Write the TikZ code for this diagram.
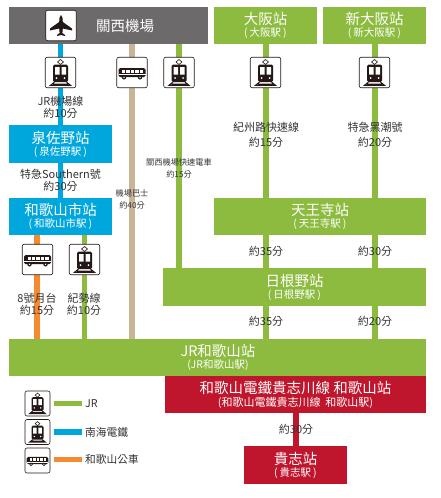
\documentclass[tikz,border=0pt]{standalone}
\usepackage{fontspec}
\setmainfont{Noto Sans CJK TC}
\definecolor{jrgreen}{HTML}{8CBB3F}
\definecolor{nankaiblue}{HTML}{00A7DC}
\definecolor{busorange}{HTML}{F58A2E}
\definecolor{limotan}{HTML}{C9B498}
\definecolor{kixgray}{HTML}{6D6A6B}
\definecolor{kishired}{HTML}{C0162D}
\definecolor{icondark}{HTML}{231815}
\definecolor{labeltext}{HTML}{333333}
\newcommand{\stn}[2]{{\fontsize{14.5}{15}\selectfont #1}\\[0pt]{\fontsize{10.5}{13}\selectfont (\kern2pt #2\kern2pt)}}
\tikzset{
  station/.style={fill=#1, text=white, minimum height=37.5, inner sep=0pt, align=center},
  route/.style={line width=5.6pt, #1},
  timelabel/.style={text=labeltext, font=\fontsize{11}{12}\selectfont, inner sep=0pt, align=center},
  smalllabel/.style={text=labeltext, font=\fontsize{8.2}{12}\selectfont, inner sep=0pt, align=center},
  iconbox/.style={draw=icondark, line width=.6pt, fill=white, rounded corners=2pt, minimum size=#1, inner sep=0pt},
  iconbox/.default=30.5,
  legendtext/.style={text=labeltext, font=\fontsize{10.7}{12}\selectfont, inner sep=0pt, anchor=west},
  trainpic/.pic={
    \draw[icondark, line width=.6pt] (0,-13) -- (3,-10.5) -- (0,-8) -- (-3,-10.5) -- cycle;
    \fill[icondark, rounded corners=1.5pt] (-7.5,-8) rectangle (7.5,9.5);
    \fill[white] (-5.5,-5.5) rectangle (-1,2) (1,-5.5) rectangle (5.5,2);
    \fill[white] (-4,5.5) circle (1) (4,5.5) circle (1);
    \draw[icondark, line width=1pt] (-6,9.5) -- (-10,12.8) -- (10,12.8) -- (6,9.5) (-7.5,11.5) -- (7.5,11.5);
  },
  buspic/.pic={
    \fill[icondark, rounded corners=1.5pt] (-13.5,-4.5) rectangle (13.5,4.5);
    \foreach \wx in {-10,-5.6,-1.2,3.2,7.6}
      \fill[white] (\wx,-2.8) rectangle ++(3.4,3);
    \fill[white] (-13.5,1.8) rectangle (13.5,2.6);
    \fill[icondark] (-8,4.8) circle (2.2) (8,4.8) circle (2.2);
    \fill[white] (-8,4.8) circle (.8) (8,4.8) circle (.8);
  },
  planepic/.pic={
    \fill[icondark] (0,-10.5) .. controls (1.8,-9.5) and (1.8,-6) .. (1.8,-3.5)
      -- (11,3) -- (11,5) -- (1.8,3) -- (1.4,7.5) -- (4,9.5) -- (4,10.5) -- (0,9.5)
      -- (-4,10.5) -- (-4,9.5) -- (-1.4,7.5) -- (-1.8,3) -- (-11,5) -- (-11,3) -- (-1.8,-3.5)
      .. controls (-1.8,-6) and (-1.8,-9.5) .. (0,-10.5) -- cycle;
  },
}
\begin{document}
\begin{tikzpicture}[x=1pt, y=-1pt]
  \useasboundingbox (0,0) rectangle (441,498);

  % Estaciones
  \node[station=kixgray, minimum width=199] (kansai) at (108.5,25.5) {};
  \node[station=jrgreen, minimum width=103] (osaka) at (265.5,25.5) {\stn{大阪站}{大阪駅}};
  \node[station=jrgreen, minimum width=103] (shinosaka) at (374.5,25.5) {\stn{新大阪站}{新大阪駅}};
  \node[station=nankaiblue, minimum width=103] (sano) at (60.5,144) {\stn{泉佐野站}{泉佐野駅}};
  \node[station=nankaiblue, minimum width=103] (wakayamashi) at (60.5,216.5) {\stn{和歌山市站}{和歌山市駅}};
  \node[station=jrgreen, minimum width=212] (tennoji) at (320,216.5) {\stn{天王寺站}{天王寺駅}};
  \node[station=jrgreen, minimum width=263] (hineno) at (294.5,287) {\stn{日根野站}{日根野駅}};
  \node[station=jrgreen, minimum width=417] (jrwakayama) at (217.5,357.5) {};
  \node[station=kishired, minimum width=261] (wakayamaden) at (295.5,394.5) {};
  \node[station=kishired, minimum width=103] (kishi) at (295.5,465) {\stn{貴志站}{貴志駅}};

  % Columnas de las lineas
  \coordinate (bluex) at (60.5,0);
  \coordinate (orangex) at (37,0);
  \coordinate (kisex) at (84.5,0);
  \coordinate (tanx) at (132,0);
  \coordinate (kixx) at (179,0);
  \coordinate (osakax) at (266,0);
  \coordinate (shinx) at (375,0);
  \coordinate (redx) at (296,0);

  % Lineas
  \draw[route=nankaiblue] (bluex |- kansai.south) -- (bluex |- sano.north);
  \draw[route=nankaiblue] (bluex |- sano.south) -- (bluex |- wakayamashi.north);
  \draw[route=busorange] (orangex |- wakayamashi.south) -- (orangex |- jrwakayama.north);
  \draw[route=jrgreen] (kisex |- wakayamashi.south) -- (kisex |- jrwakayama.north);
  \draw[route=limotan] (tanx |- kansai.south) -- (tanx |- jrwakayama.north);
  \draw[route=jrgreen] (kixx |- kansai.south) -- (kixx |- hineno.north);
  \draw[route=jrgreen] (osakax |- osaka.south) -- (osakax |- tennoji.north);
  \draw[route=jrgreen] (osakax |- tennoji.south) -- (osakax |- hineno.north);
  \draw[route=jrgreen] (osakax |- hineno.south) -- (osakax |- jrwakayama.north);
  \draw[route=jrgreen] (shinx |- shinosaka.south) -- (shinx |- tennoji.north);
  \draw[route=jrgreen] (shinx |- tennoji.south) -- (shinx |- hineno.north);
  \draw[route=jrgreen] (shinx |- hineno.south) -- (shinx |- jrwakayama.north);
  \draw[route=kishired] (redx |- wakayamaden.south) -- (redx |- kishi.north);

  % Textos de las estaciones sin linea propia
  \node[text=white, font=\fontsize{14.5}{15}\selectfont, inner sep=0pt] (kansaitext) at (125,26) {關西機場};
  \node[text=white, inner sep=0pt, align=center] (jrtext) at (218,357.5) {{\fontsize{14.5}{15}\selectfont JR和歌山站}\\[0pt]{\fontsize{10.5}{13}\selectfont (JR和歌山駅)}};
  \node[text=white, inner sep=0pt, align=center] (dentext) at (295.5,394.5) {{\fontsize{14.5}{15}\selectfont 和歌山電鐵貴志川線 和歌山站}\\[1pt]{\fontsize{11}{13}\selectfont (和歌山電鐵貴志川線\ \ 和歌山駅)}};

  % Iconos
  \node[iconbox] (planeicon) at (61,25.5) {};
  \pic at (planeicon) {planepic};
  \foreach \n/\x/\y in {traina/60.5/72.5, trainb/179/72.5, trainc/265.5/72.5, traind/374.5/72.5, traine/84.5/259.5}{
    \node[iconbox] (\n) at (\x,\y) {};
    \pic at (\n) {trainpic};
  }
  \foreach \n/\x/\y in {busa/132/72.5, busb/37.5/259.5}{
    \node[iconbox] (\n) at (\x,\y) {};
    \pic at (\n) {buspic};
  }

  % Tiempos
  \node[timelabel] (lbjr) at (60.5,107) {JR機場線\\約10分};
  \node[timelabel] (lbsouth) at (60.5,180) {特急Southern號\\約30分};
  \node[timelabel] (lbgate) at (37,304) {8號月台\\約15分};
  \node[timelabel] (lbkise) at (84,304) {紀勢線\\約10分};
  \node[smalllabel] (lblimo) at (132,199) {機場巴士\\約40分};
  \node[smalllabel] (lbkix) at (179,168) {關西機場快速電車\\約15分};
  \node[timelabel] (lbkishu) at (266,134.5) {紀州路快速線\\[3pt]約15分};
  \node[timelabel] (lbkuro) at (375,134.5) {特急黑潮號\\[3pt]約20分};
  \node[timelabel] (lbta) at (266,251) {約35分};
  \node[timelabel] (lbtb) at (375,251) {約30分};
  \node[timelabel] (lbha) at (266,321) {約35分};
  \node[timelabel] (lbhb) at (375,321) {約20分};
  \node[timelabel] (lbred) at (296,429) {約30分};

  % Leyenda
  \foreach \n/\y/\c/\t in {lega/403.5/jrgreen/JR, legb/432/nankaiblue/南海電鐵}{
    \node[iconbox=25] (\n) at (37.5,\y) {};
    \pic[scale=.8] at (\n) {trainpic};
    \coordinate (\n s) at (54,\y);
    \coordinate (\n e) at (82,\y);
    \draw[route=\c] (\n s) -- (\n e);
    \node[legendtext] (\n t) at (85,\y) {\t};
  }
  \node[iconbox=25] (legc) at (37.5,460.5) {};
  \pic[scale=.8] at (legc) {buspic};
  \coordinate (legcs) at (54,459.5);
  \coordinate (legce) at (82,459.5);
  \draw[route=busorange] (legcs) -- (legce);
  \node[legendtext] (legct) at (85,459.5) {和歌山公車};
\end{tikzpicture}
\end{document}
